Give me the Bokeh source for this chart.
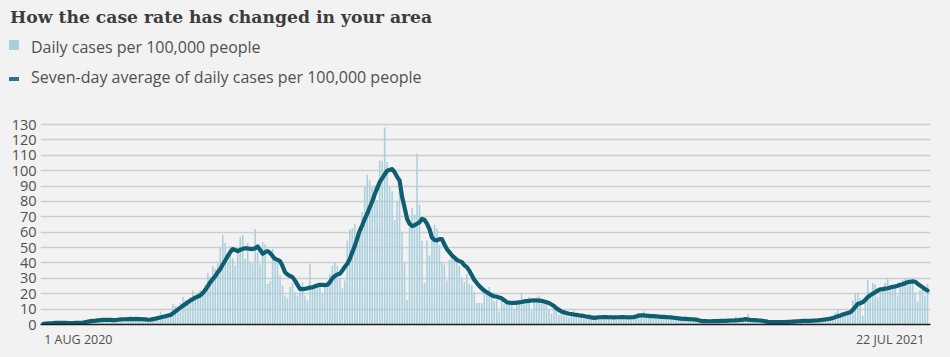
from bokeh.plotting import figure
from bokeh.models import FixedTicker, Range1d, Div
from bokeh.layouts import column
from bokeh.embed import file_html
from bokeh.resources import INLINE
import pandas as pd

# ---- data -------------------------------------------------------------
start_date = "2020-08-01"
n_days = 356
dates = pd.date_range(start_date, periods=n_days, freq="D")

daily_cases = [
    0.3, 0.8, 0.5, 1.2, 0.6, 1.5, 0.9,
    1.1, 0.7, 1.3, 0.8, 0.6, 1.2, 0.9,
    1.4, 0.8, 1.7, 2.1, 1.5, 2.6, 2.8,
    3.1, 2.2, 3.4, 2.7, 3.6, 2.9, 3.2,
    2.5, 3.3, 3.5, 2.8, 3.9, 3.6, 3.1,
    5.8, 3.4, 3.8, 5.1, 3.2, 3.6, 2.9,
    2.7, 3.5, 4.2,
    3.6, 5.0, 8.4, 5.6, 5.2, 6.9, 7.5, 13.4, 12.0, 11.5,
    14.0, 17.8, 16.0, 13.5, 17.8, 22.1, 16.5, 21.0, 22.4, 20.0,
    26.0, 33.6, 30.9, 38.0, 36.0, 39.5,
    50, 58, 53, 40.5, 51, 43, 38.4, 49, 56.8, 58,
    42.7, 52.9, 41, 39.5, 62, 47, 39, 53.5, 52, 26.5,
    28.2, 49, 40.5, 41, 31.9, 25.4, 18.9, 17.3, 24.3, 27,
    21, 18.9, 22, 27.5, 18.9, 15.6, 39.5, 24.3, 26.5, 24.3,
    25.4, 20, 26.5, 25.4, 33, 38.4, 39.9, 38, 29.7, 23.6,
    28.6, 54.6, 61.8, 62.6, 65.5, 60, 62.2, 73, 89.3, 97.3,
    93.6, 89, 90.4, 81, 106.6, 106, 128,
    105.5, 89.3, 86.5, 68, 80, 87, 60, 40, 16, 63,
    75.8, 71.5, 111, 77.8, 54.6, 26.9, 54.6, 44.9, 60, 64.8,
    62.2, 52, 39.9, 39, 28.6, 42, 44.9, 42, 42, 38,
    29.7, 27.5, 33, 26.5, 25.4, 21.4, 13.9, 13.9, 13.9, 20.4,
    21, 24.3, 18.9, 15.2, 16, 8.4, 16.7, 13.4, 14, 13,
    13, 10.2, 14, 15.6, 20, 15.6, 14.5, 17.8, 8.7, 14.5,
    17.8, 18.9, 14.5, 15.6, 15.6, 9.7, 7, 13, 9.1, 6.3,
    7.4, 7, 5.2, 4.7, 5.9, 9.1, 7,
    6.2, 4.8, 4.1, 5.5, 6.8, 4.0, 3.6,
    5.1, 4.6, 6.2, 5.0, 3.9, 4.4, 5.8,
    4.9, 4.2, 3.8, 5.5, 6.0, 4.3, 4.9,
    5.2, 3.9, 6.8, 6.3, 5.1, 8.6, 5.6,
    5.9, 4.8, 6.5, 5.0, 4.2, 5.9, 5.4,
    4.1, 4.9, 5.2, 3.6, 4.4, 3.9, 4.5,
    3.2, 3.9, 4.1, 2.9, 3.6, 3.3, 2.4,
    1.9, 2.6, 2.3, 1.8, 2.5, 2.0, 2.6,
    2.1, 1.9, 2.8, 2.5, 2.2, 3.1, 2.4,
    5.2, 2.6, 3.3, 2.9, 3.6, 7.2, 2.8,
    2.5, 3.1, 2.2, 2.9, 2.4, 1.6, 1.8,
    1.4, 1.7, 1.5, 1.2, 1.9, 1.6, 1.3,
    1.8, 2.1, 1.6, 2.3, 2.0, 2.5, 2.2,
    2.0, 2.8, 2.4, 2.2, 2.9, 2.6, 3.2,
    3.0, 3.4, 3.9, 3.6, 4.8, 8.0, 9.5,
    5.9, 6.2, 6.8, 7.1, 8.0, 15.6, 20.0,
    20.0, 17.3, 5.9, 15.2, 29.0, 21.0, 27.0,
    26.0, 17.8, 21.0, 22.8, 27.0, 29.9, 24.3,
    25.0, 26.5, 18.9, 25.6, 29.0, 30.0, 30.3,
    26.9, 28.6, 20.0, 15.0, 22.1, 23.9, 18.9,
    26.5,
]

seven_day_avg = [
    0.5, 0.6, 0.7, 0.8, 0.9, 1.0, 1.0,
    1.0, 1.0, 1.0, 0.9, 0.9, 0.9, 1.0,
    1.0, 1.1, 1.3, 1.6, 1.9, 2.2, 2.4,
    2.5, 2.7, 2.9, 3.0, 3.0, 3.1, 3.0,
    2.9, 2.9, 3.1, 3.3, 3.4, 3.4, 3.5,
    3.5, 3.5, 3.6, 3.5, 3.5, 3.4, 3.3,
    3.1, 3.2, 3.5, 3.8, 4.2, 4.6, 5.0,
    5.4, 5.8, 6.2, 7.3, 8.5, 9.8, 11.0,
    12.2, 13.3, 14.5, 15.6, 16.5, 17.5, 18.2,
    19.0, 20.5, 22.5, 25.0, 27.5, 29.5, 31.5,
    34.0, 36.0, 39.0, 41.6, 44.5, 47.0, 49.0,
    48.5, 47.7, 48.5, 49.2, 49.6, 49.4, 49.2,
    49.0, 49.5, 50.7, 48.5, 46.0, 47.0, 47.7,
    46.5, 44.5, 42.7, 42.0, 41.2, 38.0, 34.0,
    32.5, 31.5, 30.8, 28.5, 25.8, 23.2, 23.0,
    23.2, 23.5, 24.0, 24.2, 24.8, 25.3, 25.8,
    25.8, 25.5, 25.8, 27.5, 30.0, 31.5, 32.5,
    33.0, 35.0, 37.5, 39.5, 42.5, 47.0, 51.0,
    56.0, 61.0, 64.5, 68.5, 72.0, 76.0, 80.0,
    84.5, 88.5, 92.5, 95.0, 97.5, 100.0, 100.5,
    101.0, 99.0, 96.0, 93.6, 83.0, 76.0, 68.7,
    65.5, 64.0, 64.5, 65.5, 66.5, 68.7, 68.0,
    65.5, 62.0, 56.5, 55.0, 54.6, 55.5, 55.5,
    52.0, 49.0, 47.0, 45.0, 43.5, 42.0, 41.2,
    40.5, 38.5, 37.3, 35.0, 32.0, 29.0, 27.0,
    25.0, 23.5, 22.0, 21.0, 20.0, 19.0, 18.4,
    18.0, 17.5, 17.0, 15.8, 14.5, 14.2, 14.0,
    14.0, 14.2, 14.4, 14.6, 15.0, 15.2, 15.4,
    15.6, 15.7, 15.6, 15.5, 15.4, 15.0, 14.5,
    14.0, 13.0, 12.0, 10.5, 9.5, 8.5, 8.0,
    7.4, 7.0, 6.8, 6.5, 6.3, 6.0, 5.8,
    5.5, 5.2, 5.0, 4.6, 4.3, 4.5, 4.7,
    4.7, 4.8, 4.8, 4.7, 4.7, 4.6, 4.7,
    4.7, 4.8, 4.8, 4.7, 4.6, 4.7, 4.8,
    5.2, 5.8, 5.9, 5.9, 5.8, 5.6, 5.4,
    5.4, 5.3, 5.2, 5.0, 4.9, 4.8, 4.7,
    4.6, 4.4, 4.2, 4.0, 3.8, 3.7, 3.6,
    3.5, 3.4, 3.3, 3.2, 2.8, 2.4, 2.2,
    2.2, 2.1, 2.1, 2.2, 2.2, 2.2, 2.3,
    2.4, 2.4, 2.5, 2.6, 2.6, 2.7, 2.8,
    3.0, 3.2, 3.5, 3.2, 3.0, 2.9, 2.8,
    2.6, 2.6, 2.3, 2.0, 1.7, 1.6, 1.5,
    1.5, 1.5, 1.5, 1.5, 1.6, 1.7, 1.8,
    1.9, 2.0, 2.1, 2.2, 2.3, 2.3, 2.4,
    2.4, 2.5, 2.6, 2.7, 2.9, 3.1, 3.3,
    3.6, 3.8, 4.2, 4.8, 5.4, 5.9, 6.5,
    7.0, 7.5, 8.0, 9.5, 11.5, 13.4, 13.8,
    14.5, 16.0, 17.8, 19.0, 20.0, 21.0, 22.0,
    22.8, 23.0, 23.3, 23.6, 24.0, 24.5, 24.7,
    25.2, 25.8, 26.2, 26.8, 27.5, 27.8, 28.0,
    27.8, 26.5, 25.4, 24.3, 23.0, 22.1,
]

y_ticks = [0, 10, 20, 30, 40, 50, 60, 70, 80, 90, 100, 110, 120, 130]
x_tick_days = [14, 340]
x_tick_labels = ["1 AUG 2020", "22 JUL 2021"]
title_text = "How the case rate has changed in your area"
legend_labels = ["Daily cases per 100,000 people",
                 "Seven-day average of daily cases per 100,000 people"]

assert len(daily_cases) == n_days, len(daily_cases)
assert len(seven_day_avg) == n_days, len(seven_day_avg)

day_index = [(d - dates[0]).days for d in dates]

# ---- styling ----------------------------------------------------------
BG = "#f2f2f2"
BAR = "#a9cfdc"
LINE = "#0f5d71"
LEG_LINE = "#2f7590"
TXT = "#505050"
SANS = "Open Sans"

header_html = f"""
<div style="position:relative;width:950px;height:110px;background:{BG};">
  <div style="position:absolute;left:10px;top:5px;white-space:nowrap;
       font-family:'DejaVu Serif';font-weight:bold;font-size:17.2px;line-height:24px;
       color:#3c3c3c;">{title_text}</div>
  <div style="position:absolute;left:9px;top:40px;width:10px;height:10px;
       background:{BAR};"></div>
  <div style="position:absolute;left:31px;top:35.5px;white-space:nowrap;
       font-family:'{SANS}';font-size:16px;line-height:22px;color:{TXT};">{legend_labels[0]}</div>
  <div style="position:absolute;left:9px;top:77px;width:10px;height:4px;
       background:{LEG_LINE};"></div>
  <div style="position:absolute;left:31px;top:65.5px;white-space:nowrap;
       font-family:'{SANS}';font-size:16px;line-height:22px;color:{TXT};">{legend_labels[1]}</div>
</div>
"""
header = Div(text=header_html, width=950, height=110, margin=0)

p = figure(width=950, height=247, output_backend="svg", toolbar_location=None,
           title=None,
           x_range=Range1d(-1.2, n_days + 0.2), y_range=Range1d(0, 133.9),
           min_border_left=40, min_border_right=20,
           min_border_top=8, min_border_bottom=33, margin=0)
p.background_fill_color = BG
p.border_fill_color = BG
p.outline_line_color = None

bars = p.vbar(x=day_index, top=daily_cases, width=0.62, fill_color=BAR,
              line_color=None)
avg_line = p.line(x=day_index, y=seven_day_avg, line_width=4.2,
                  line_color=LINE, line_join="round", line_cap="round")

# axes
p.xaxis.ticker = FixedTicker(ticks=x_tick_days)
p.xaxis.major_label_overrides = {d: t for d, t in zip(x_tick_days, x_tick_labels)}
p.xaxis.major_label_text_font = SANS
p.xaxis.major_label_text_font_size = "12.5px"
p.xaxis.major_label_text_color = TXT
p.xaxis.major_label_standoff = 6
p.xaxis.major_tick_in = 0
p.xaxis.major_tick_out = 0
p.xaxis.major_tick_line_color = None
p.xaxis.minor_tick_line_color = None
p.xaxis.axis_line_color = "#1e1e1e"
p.xaxis.axis_line_width = 1.5
p.xgrid.grid_line_color = None

p.yaxis.ticker = FixedTicker(ticks=y_ticks)
p.yaxis.axis_line_color = None
p.yaxis.major_tick_line_color = None
p.yaxis.minor_tick_line_color = None
p.yaxis.major_tick_in = 0
p.yaxis.major_tick_out = 0
p.yaxis.major_label_standoff = 4
p.yaxis.major_label_text_font = SANS
p.yaxis.major_label_text_font_size = "14.5px"
p.yaxis.major_label_text_color = TXT
p.ygrid.ticker = FixedTicker(ticks=y_ticks)
p.ygrid.grid_line_color = "#cdcdcd"
p.ygrid.grid_line_width = 1.5

layout = column(header, p, spacing=0, margin=0,
                styles={"background-color": BG})

open("out.html", "w").write(file_html(layout, INLINE))
